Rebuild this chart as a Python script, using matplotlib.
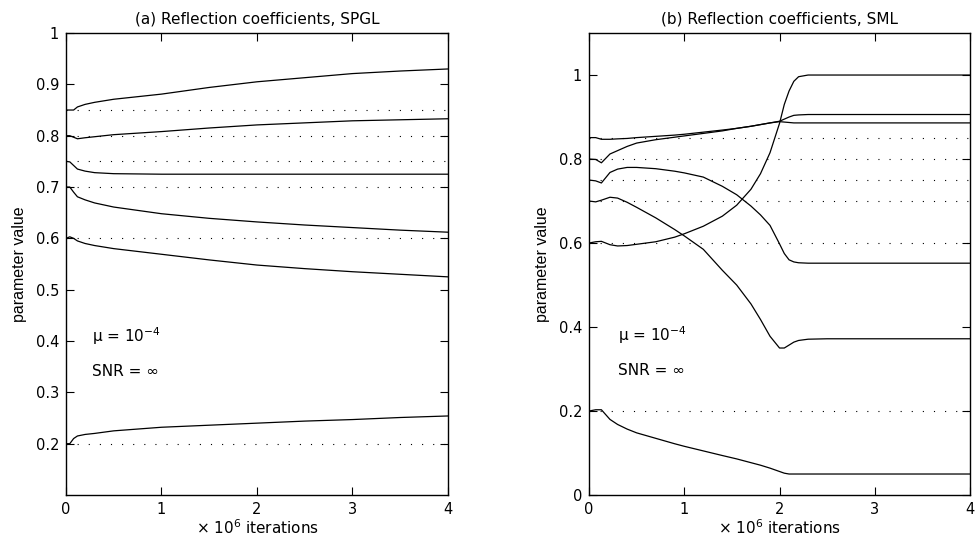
import matplotlib
matplotlib.use("Agg")
import matplotlib.pyplot as plt
from matplotlib.ticker import FormatStrFormatter

plt.rcParams['font.family'] = ['DejaVu Sans']
plt.rcParams['mathtext.fontset'] = 'dejavusans'

# true parameter values (dotted reference lines)
true_vals = [0.85, 0.8, 0.75, 0.7, 0.6, 0.2]

# (a) SPGL estimates, x in 1e6 iterations
spgl_x = [0, 0.04, 0.08, 0.12, 0.2, 0.3, 0.5, 1.0, 1.5, 2.0, 2.5, 3.0, 3.5, 4.0]
spgl_k1 = [0.85, 0.85, 0.85, 0.856, 0.861, 0.865, 0.871, 0.881, 0.894, 0.905, 0.913, 0.921, 0.926, 0.93]
spgl_k2 = [0.8, 0.8, 0.797, 0.794, 0.796, 0.798, 0.802, 0.808, 0.815, 0.821, 0.825, 0.829, 0.831, 0.833]
spgl_k3 = [0.75, 0.749, 0.742, 0.735, 0.731, 0.728, 0.726, 0.725, 0.725, 0.725, 0.725, 0.725, 0.725, 0.725]
spgl_k4 = [0.7, 0.7, 0.69, 0.681, 0.675, 0.669, 0.661, 0.648, 0.639, 0.632, 0.626, 0.621, 0.616, 0.612]
spgl_k5 = [0.6, 0.603, 0.6, 0.595, 0.59, 0.586, 0.58, 0.569, 0.558, 0.548, 0.541, 0.535, 0.53, 0.525]
spgl_k6 = [0.2, 0.2, 0.21, 0.215, 0.218, 0.22, 0.225, 0.232, 0.236, 0.24, 0.244, 0.247, 0.251, 0.254]

# (b) SML estimates
sml_x = [0, 0.07, 0.13, 0.22, 0.3, 0.4, 0.5, 0.7, 0.9, 1.0, 1.2, 1.4, 1.55, 1.7, 1.8, 1.9,
         2.0, 2.05, 2.1, 2.15, 2.2, 2.3, 2.5, 3.0, 4.0]
sml_k1 = [0.851, 0.851, 0.847, 0.847, 0.848, 0.849, 0.851, 0.854, 0.857, 0.859, 0.864, 0.869, 0.873, 0.878,
          0.882, 0.886, 0.889, 0.888, 0.887, 0.886, 0.886, 0.886, 0.886, 0.886, 0.886]
sml_k2 = [0.8, 0.799, 0.791, 0.812, 0.82, 0.83, 0.838, 0.846, 0.852, 0.855, 0.861, 0.867, 0.873, 0.878,
          0.882, 0.886, 0.89, 0.895, 0.9, 0.904, 0.905, 0.906, 0.906, 0.906, 0.906]
sml_k3 = [0.75, 0.748, 0.743, 0.768, 0.776, 0.78, 0.78, 0.777, 0.771, 0.767, 0.757, 0.735, 0.715, 0.688,
          0.667, 0.642, 0.598, 0.575, 0.56, 0.555, 0.553, 0.552, 0.552, 0.552, 0.552]
sml_k4 = [0.7, 0.698, 0.702, 0.709, 0.707, 0.697, 0.685, 0.66, 0.632, 0.617, 0.585, 0.535, 0.5, 0.455,
          0.418, 0.378, 0.35, 0.35, 0.357, 0.364, 0.368, 0.371, 0.372, 0.372, 0.372]
sml_k5 = [0.6, 0.603, 0.604, 0.596, 0.593, 0.594, 0.597, 0.603, 0.614, 0.622, 0.64, 0.664, 0.69, 0.728,
          0.765, 0.815, 0.885, 0.93, 0.962, 0.985, 0.996, 1.0, 1.0, 1.0, 1.0]
sml_k6 = [0.2, 0.203, 0.203, 0.18, 0.168, 0.157, 0.148, 0.135, 0.122, 0.116, 0.105, 0.094, 0.086, 0.077,
          0.071, 0.064, 0.056, 0.052, 0.05, 0.05, 0.05, 0.05, 0.05, 0.05, 0.05]

fig = plt.figure(figsize=(9.76, 5.38), dpi=100)
ax1 = fig.add_axes([0.0676, 0.0799, 0.3914, 0.8587])
ax2 = fig.add_axes([0.6035, 0.0799, 0.3904, 0.8587])

panels = [
    (ax1, spgl_x, [spgl_k1, spgl_k2, spgl_k3, spgl_k4, spgl_k5, spgl_k6],
     '(a) Reflection coefficients, SPGL', (0.1, 1.0), [0.2, 0.3, 0.4, 0.5, 0.6, 0.7, 0.8, 0.9, 1.0],
     (0.27, 0.41), (0.27, 0.34)),
    (ax2, sml_x, [sml_k1, sml_k2, sml_k3, sml_k4, sml_k5, sml_k6],
     '(b) Reflection coefficients, SML', (0.0, 1.1), [0, 0.2, 0.4, 0.6, 0.8, 1.0],
     (0.30, 0.38), (0.30, 0.297)),
]

for ax, xs, series, title, ylim, yticks, mu_pos, snr_pos in panels:
    for v in true_vals:
        ax.plot([0, 4], [v, v], color='black', linestyle=(0, (1, 9)), linewidth=0.8)
    for ys in series:
        ax.plot(xs, ys, color='black', linewidth=0.9)
    ax.set_xlim(0, 4)
    ax.set_ylim(*ylim)
    ax.set_xticks([0, 1, 2, 3, 4])
    ax.set_yticks(yticks)
    ax.yaxis.set_major_formatter(FormatStrFormatter('%g'))
    ax.tick_params(direction='in', top=True, right=True, length=6, width=0.8,
                   labelsize=10.5, pad=5)
    for s in ax.spines.values():
        s.set_linewidth(1.0)
    ax.set_title(title, fontsize=11, pad=7)
    ax.set_xlabel('× 10$^6$ iterations', fontsize=11, labelpad=1)
    ax.set_ylabel('parameter value', fontsize=11.5, labelpad=6,
                  family=['Liberation Sans', 'DejaVu Sans'])
    ax.text(mu_pos[0], mu_pos[1], 'μ = 10$^{-4}$', fontsize=11, va='center')
    ax.text(snr_pos[0], snr_pos[1], 'SNR = ∞', fontsize=11, va='center')

fig.savefig('out.png', dpi=100)
